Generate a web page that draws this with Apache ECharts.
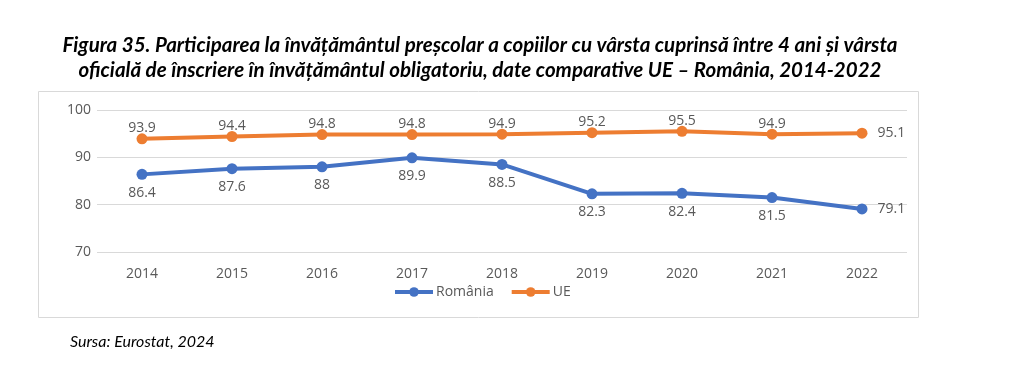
<!DOCTYPE html>
<html><head><meta charset="utf-8">
<script src="https://cdn.jsdelivr.net/npm/echarts@6/dist/echarts.min.js"></script>
<style>html,body{margin:0;padding:0;background:#fff}#c{width:1024px;height:371px}</style>
</head><body><div id="c"></div>
<script>
const years = ['2014','2015','2016','2017','2018','2019','2020','2021','2022'];
const romania = [86.4, 87.6, 88, 89.9, 88.5, 82.3, 82.4, 81.5, 79.1];
const ue = [93.9, 94.4, 94.8, 94.8, 94.9, 95.2, 95.5, 94.9, 95.1];
const yTicks = [70, 80, 90, 100];
const titleLine1 = 'Figura 35. Participarea la învățământul preșcolar a copiilor cu vârsta cuprinsă între 4 ani și vârsta';
const titleLine2 = 'oficială de înscriere în învățământul obligatoriu, date comparative UE – România, 2014-2022';
const sourceText = 'Sursa: Eurostat, 2024';

const chart = echarts.init(document.getElementById('c'), null, {renderer: 'canvas'});
const lblFont = {fontFamily: 'Open Sans', fontSize: 14, color: '#595959'};
function labelsFor(arr, pos, dist) {
  return arr.map((v, i) => ({
    value: v,
    label: {position: i === arr.length - 1 ? 'right' : pos, distance: i === arr.length - 1 ? 10 : dist}
  }));
}
chart.setOption({
  animation: false,
  graphic: [
    {type: 'rect', shape: {x: 38.5, y: 91.5, width: 880, height: 226}, style: {fill: 'none', stroke: '#d9d9d9', lineWidth: 1}, z: -1},
    {type: 'text', x: 480, y: 45, style: {text: titleLine1, fontFamily: 'Lato', fontStyle: 'italic', fontWeight: 'bold', fontSize: 20.5, fill: '#000', textAlign: 'center', textVerticalAlign: 'middle'}},
    {type: 'text', x: 480, y: 70, style: {text: titleLine2, fontFamily: 'Lato', fontStyle: 'italic', fontWeight: 'bold', fontSize: 20.5, fill: '#000', textAlign: 'center', textVerticalAlign: 'middle'}},
    {type: 'text', x: 70, y: 342, style: {text: sourceText, fontFamily: 'Lato', fontStyle: 'italic', fontSize: 16, fill: '#000', textAlign: 'left', textVerticalAlign: 'middle'}}
  ],
  grid: {left: 97, right: 117, top: 110, bottom: 119, containLabel: false},
  legend: {
    data: ['România', 'UE'], top: 280, left: 388, itemWidth: 38, itemHeight: 12, itemGap: 16,
    textStyle: {fontFamily: 'Open Sans', fontSize: 14, color: '#595959', padding: [0, 0, 0, -2]},
    lineStyle: {width: 4}
  },
  xAxis: {
    type: 'category', data: years, boundaryGap: true,
    axisLine: {show: false}, axisTick: {show: false},
    axisLabel: {fontFamily: 'Open Sans', fontSize: 14, color: '#595959', margin: 15}
  },
  yAxis: {
    type: 'value', min: yTicks[0], max: yTicks[yTicks.length - 1], interval: 10,
    axisLine: {show: false}, axisTick: {show: false},
    axisLabel: {fontFamily: 'Open Sans', fontSize: 14, color: '#595959', margin: 6},
    splitLine: {lineStyle: {color: '#d9d9d9', width: 1}}
  },
  series: [
    {name: 'România', type: 'line', data: labelsFor(romania, 'bottom', 6), symbol: 'circle', symbolSize: 11,
      lineStyle: {color: '#4472C4', width: 4}, itemStyle: {color: '#4472C4'},
      label: {show: true, ...lblFont}},
    {name: 'UE', type: 'line', data: labelsFor(ue, 'top', -2), symbol: 'circle', symbolSize: 11,
      lineStyle: {color: '#ED7D31', width: 4}, itemStyle: {color: '#ED7D31'},
      label: {show: true, ...lblFont}}
  ]
});
</script></body></html>
